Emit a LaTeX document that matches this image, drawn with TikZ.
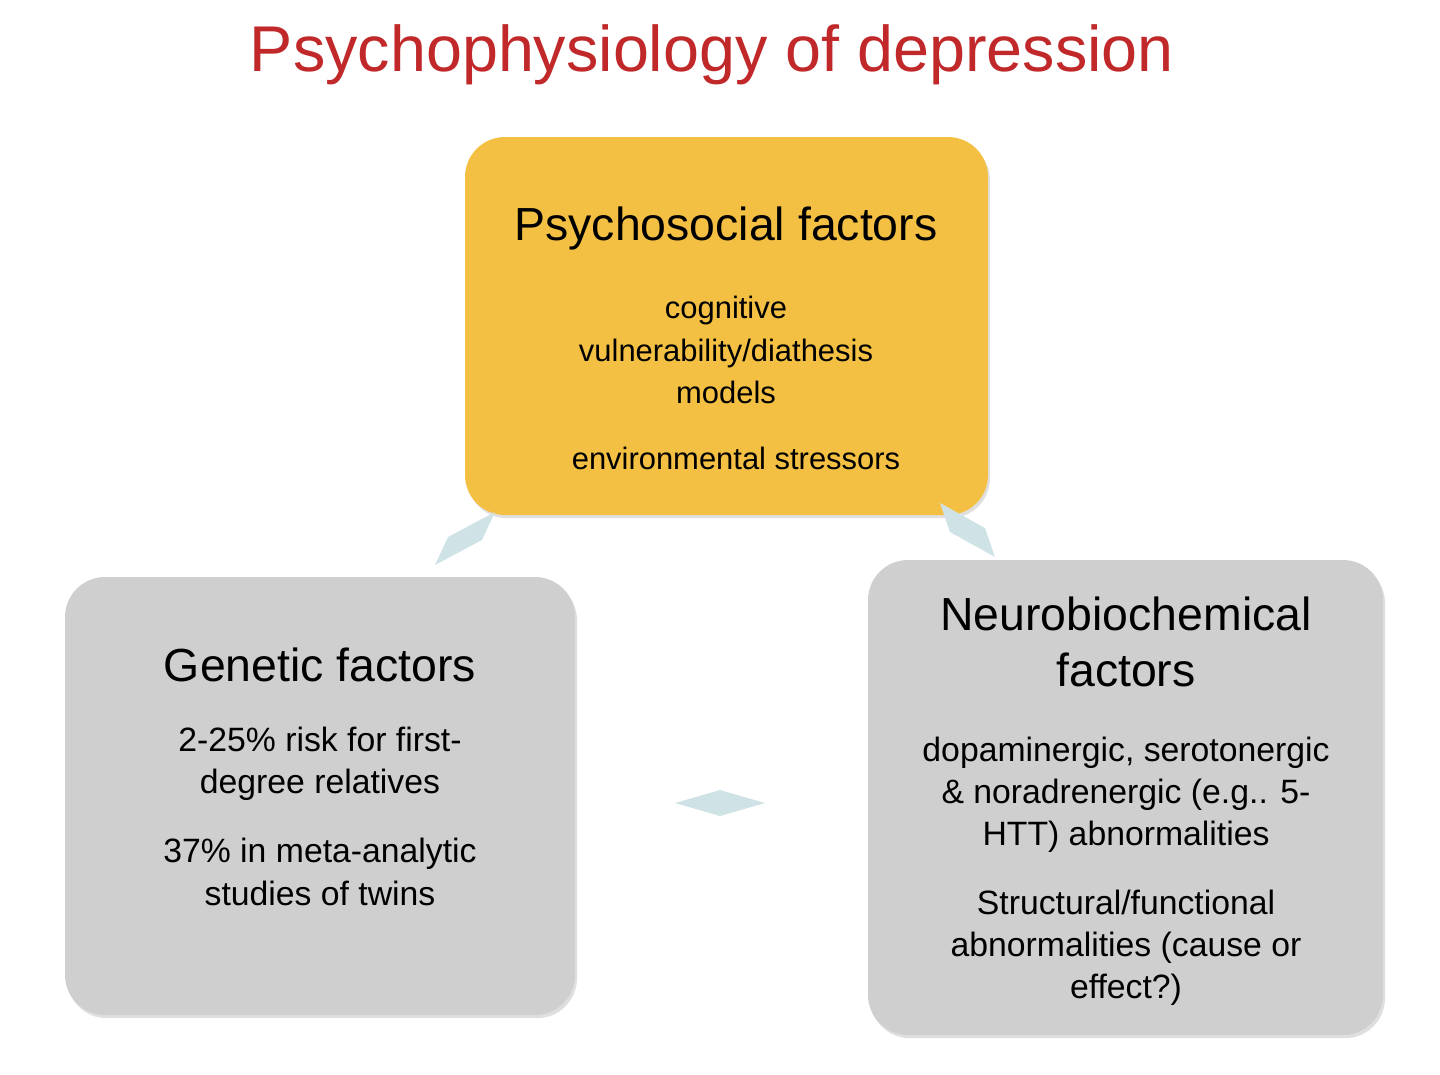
\documentclass[tikz,border=0pt]{standalone}
\usepackage{fontspec}
\setmainfont{Liberation Sans}
\usetikzlibrary{shadows}
\definecolor{ttl}{HTML}{C0282A}
\definecolor{yel}{HTML}{F4C043}
\definecolor{gry}{HTML}{CFCFCF}
\definecolor{con}{HTML}{CFE3E6}
\tikzset{
  box/.style={rounded corners=1cm, minimum width=#1, drop shadow={opacity=0.25,shadow xshift=0.5mm,shadow yshift=-0.8mm}},
  conn/.style={fill=con, draw=none}
}
\begin{document}
\begin{tikzpicture}[x=0.025cm,y=-0.025cm]
\useasboundingbox (0,0) rectangle (1440,1074);
\node[text=ttl, font=\fontsize{46}{50}\selectfont] (title) at (712,55) {Psychophysiology of depression};
\fill[yel, drop shadow={opacity=0.25,shadow xshift=0.5mm,shadow yshift=-0.8mm}, rounded corners=1cm] (465,137) rectangle (988,515);
\fill[gry, drop shadow={opacity=0.25,shadow xshift=0.5mm,shadow yshift=-0.8mm}, rounded corners=1cm] (65,577) rectangle (575,1015);
\fill[gry, drop shadow={opacity=0.25,shadow xshift=0.5mm,shadow yshift=-0.8mm}, rounded corners=1cm] (868,560) rectangle (1383,1035);
\node[font=\fontsize{33}{38}\selectfont] (ph) at (726,228) {Psychosocial factors};
\node[font=\fontsize{22}{30}\selectfont, align=center] (pt) at (726,350) {cognitive\\vulnerability/diathesis\\models};
\node[font=\fontsize{22}{30}\selectfont] (pe) at (736,458) {environmental stressors};
\node[font=\fontsize{33}{38}\selectfont] (gh) at (320,665) {Genetic factors};
\node[font=\fontsize{24}{30}\selectfont, align=center] (gt1) at (320,764) {2-25\% risk for first-\\degree relatives};
\node[font=\fontsize{24}{30}\selectfont, align=center] (gt2) at (320,872) {37\% in meta-analytic\\studies of twins};
\node[font=\fontsize{33}{40}\selectfont, align=center] (nh) at (1126,642) {Neurobiochemical\\factors};
\node[font=\fontsize{24}{30}\selectfont, align=center] (nt1) at (1126,795) {dopaminergic, serotonergic\\\& noradrenergic (e.g.. 5-\\HTT) abnormalities};
\node[font=\fontsize{24}{30}\selectfont, align=center] (nt2) at (1126,948) {Structural/functional\\abnormalities (cause or\\effect?)};
\coordinate (a1) at (495,512); \coordinate (a2) at (475,528); \coordinate (a3) at (435,565); \coordinate (a4) at (455,545);
\fill[conn] (a1) -- (a2) -- (a3) -- (a4) -- cycle;
\fill[conn] (495,512) -- (482,540) -- (435,565) -- (448,537) -- cycle;
\fill[conn] (940,503) -- (950,532) -- (995,557) -- (985,528) -- cycle;
\fill[conn] (675,803) -- (720,790) -- (765,803) -- (720,816) -- cycle;
\end{tikzpicture}
\end{document}
